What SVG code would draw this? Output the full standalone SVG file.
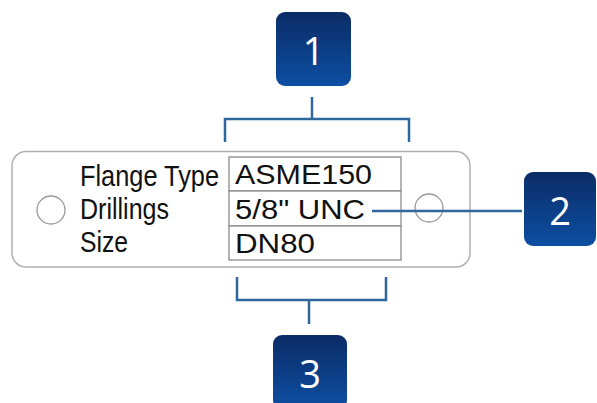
<svg xmlns="http://www.w3.org/2000/svg" width="597" height="403" viewBox="0 0 597 403">
<defs>
<linearGradient id="bg" x1="0" y1="0" x2="0" y2="1">
<stop offset="0" stop-color="#0b2c66"/>
<stop offset="1" stop-color="#0d4fa3"/>
</linearGradient>
</defs>
<style>
.badge{fill:url(#bg)}
.num{font-family:"Open Sans","Noto Sans",sans-serif;font-size:38px;fill:#fff;text-anchor:middle}
.lbl{font-family:"Liberation Sans",Arial,sans-serif;font-size:29px;fill:#111}
.val{font-family:"Liberation Sans",Arial,sans-serif;font-size:28px;fill:#111}
.conn{fill:none;stroke:#2f679c;stroke-width:2.5}
.cell{fill:#fff;stroke:#8a8a8a;stroke-width:1.3}
.tag{fill:#fff;stroke:#b0b0b0;stroke-width:1.5}
.hole{fill:#fff;stroke:#999;stroke-width:1.3}
</style>
<g id="tag">
<rect class="tag" x="12" y="151.5" width="458" height="115.5" rx="14"/>
<circle class="hole" cx="51" cy="210" r="14"/>
<circle class="hole" cx="429" cy="208" r="14"/>
</g>
<g id="labels">
<text class="lbl" x="80" y="186" textLength="139" lengthAdjust="spacingAndGlyphs">Flange Type</text>
<text class="lbl" x="80" y="219" textLength="89" lengthAdjust="spacingAndGlyphs">Drillings</text>
<text class="lbl" x="80" y="252" textLength="48" lengthAdjust="spacingAndGlyphs">Size</text>
</g>
<g id="table">
<rect class="cell" x="229" y="157" width="172" height="34"/>
<rect class="cell" x="229" y="191" width="172" height="35"/>
<rect class="cell" x="229" y="226" width="172" height="34"/>
<text class="val" x="235" y="184" textLength="137" lengthAdjust="spacingAndGlyphs">ASME150</text>
<text class="val" x="235" y="219" textLength="130" lengthAdjust="spacingAndGlyphs">5/8" UNC</text>
<text class="val" x="235" y="253" textLength="80" lengthAdjust="spacingAndGlyphs">DN80</text>
</g>
<g id="connectors">
<path class="conn" d="M312 97 V119 M225 142 V119 H409 V142"/>
<path class="conn" d="M372 211 H522"/>
<path class="conn" d="M237 277 V300 H386 V277 M309 300 V324"/>
</g>
<g id="badge1">
<rect class="badge" x="276" y="12" width="75" height="74" rx="9"/>
<text class="num" x="313.5" y="65">1</text>
</g>
<g id="badge2">
<rect class="badge" x="524" y="172" width="72" height="74" rx="9"/>
<text class="num" x="560" y="225">2</text>
</g>
<g id="badge3">
<rect class="badge" x="273" y="335" width="74" height="74" rx="9"/>
<text class="num" x="310" y="388">3</text>
</g>
</svg>
